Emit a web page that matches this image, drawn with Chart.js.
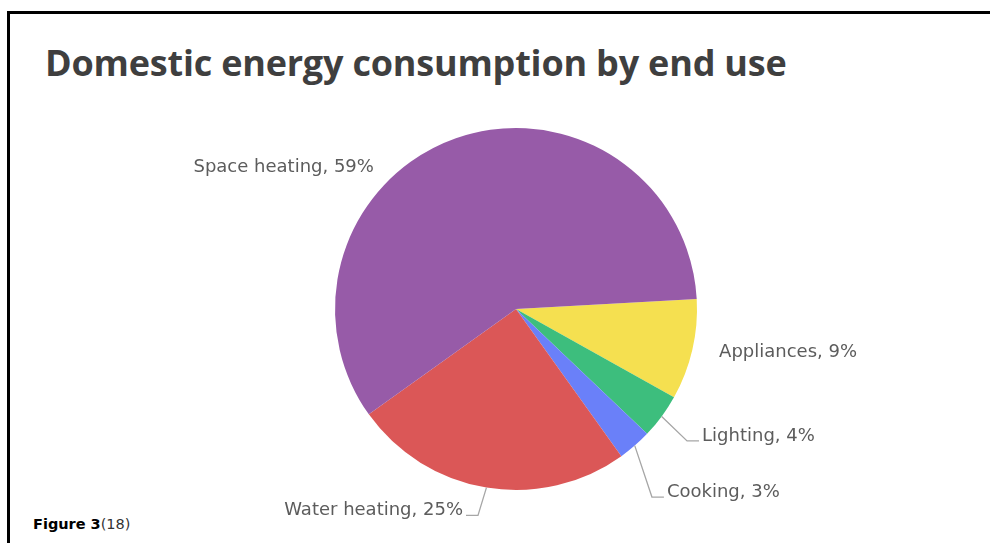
<!DOCTYPE html>
<html>
<head>
<meta charset="utf-8">
<script src="https://cdn.jsdelivr.net/npm/chart.js@4/dist/chart.umd.min.js"></script>
<style>
  html, body { margin: 0; padding: 0; background: #fff; }
  body { width: 990px; height: 543px; position: relative; overflow: hidden; }
  #frame { position: absolute; left: 7px; top: 11px; right: -10px; bottom: -10px;
           border-top: 3px solid #000; border-left: 3px solid #000; }
  #title { position: absolute; left: 45px; top: 45px; margin: 0; line-height: 36px;
           font-family: "Open Sans", sans-serif; font-weight: 700; font-size: 36px;
           color: #3f3f3f; letter-spacing: -0.2px; white-space: nowrap; }
  #caption { position: absolute; left: 33px; top: 516px; font-family: "DejaVu Sans", sans-serif;
             font-size: 14.5px; color: #000; white-space: nowrap; }
  #caption b { font-weight: 700; }
  #caption span { color: #333; font-weight: 400; }
  canvas { position: absolute; left: 0; top: 0; }
</style>
</head>
<body>
<div id="frame"></div>
<h1 id="title">Domestic energy consumption by end use</h1>
<div id="caption"><b>Figure 3</b><span>(18)</span></div>
<div style="position:absolute;left:0;top:0;width:990px;height:543px;">
  <canvas id="c"></canvas>
</div>
<script>
const categories = ["Appliances", "Lighting", "Cooking", "Water heating", "Space heating"];
const shares = [9, 4, 3, 25, 59];
const sliceColors = ["#F5E050", "#3DBE7D", "#6A80F9", "#DB5757", "#975BA8"];

// label placement (relative to pie centre, in units of the radius) — layout only
const labelPlacement = [
  { fx: 1.122, fy: 0.238, align: "left", leader: false },
  { fx: 0.945, fy: 0.729, align: "left", leader: true },
  { fx: 0.751, fy: 1.039, align: "left", leader: true },
  { fx: -0.21, fy: 1.14, align: "right", leader: true },
  { fx: -0.785, fy: -0.785, align: "right", leader: false }
];

const labelPlugin = {
  id: "pieLabels",
  afterDatasetsDraw(chart) {
    const ctx = chart.ctx;
    const meta = chart.getDatasetMeta(0);
    ctx.save();
    ctx.font = "18px 'DejaVu Sans', sans-serif";
    ctx.fillStyle = "#5c5c5c";
    meta.data.forEach((arc, i) => {
      const p = arc.getProps(["x", "y", "startAngle", "endAngle", "outerRadius"], true);
      const r = p.outerRadius;
      const pl = labelPlacement[i];
      const ax = p.x + pl.fx * r;
      const ay = p.y + pl.fy * r;
      const text = categories[i] + ", " + shares[i] + "%";
      const dir = pl.align === "left" ? 1 : -1;
      ctx.textAlign = pl.align;
      if (pl.leader) {
        const mid = (p.startAngle + p.endAngle) / 2;
        const ex = p.x + Math.cos(mid) * r;
        const ey = p.y + Math.sin(mid) * r;
        ctx.beginPath();
        ctx.strokeStyle = "#a6a6a6";
        ctx.lineWidth = 1.3;
        ctx.moveTo(ex, ey);
        ctx.lineTo(ax, ay);
        ctx.lineTo(ax + dir * 12, ay);
        ctx.stroke();
        ctx.textBaseline = "alphabetic";
        ctx.fillText(text, ax + dir * 15, ay);
      } else {
        ctx.textBaseline = "middle";
        ctx.fillText(text, ax, ay);
      }
    });
    ctx.restore();
  }
};

new Chart(document.getElementById("c"), {
  type: "pie",
  data: {
    labels: categories,
    datasets: [{
      data: shares,
      backgroundColor: sliceColors,
      borderWidth: 0
    }]
  },
  options: {
    responsive: true,
    maintainAspectRatio: false,
    animation: false,
    rotation: 86.8,
    layout: { padding: { left: 335, top: 128, right: 293, bottom: 53 } },
    plugins: {
      legend: { display: false },
      tooltip: { enabled: false },
      title: { display: false }
    }
  },
  plugins: [labelPlugin]
});
</script>
</body>
</html>
